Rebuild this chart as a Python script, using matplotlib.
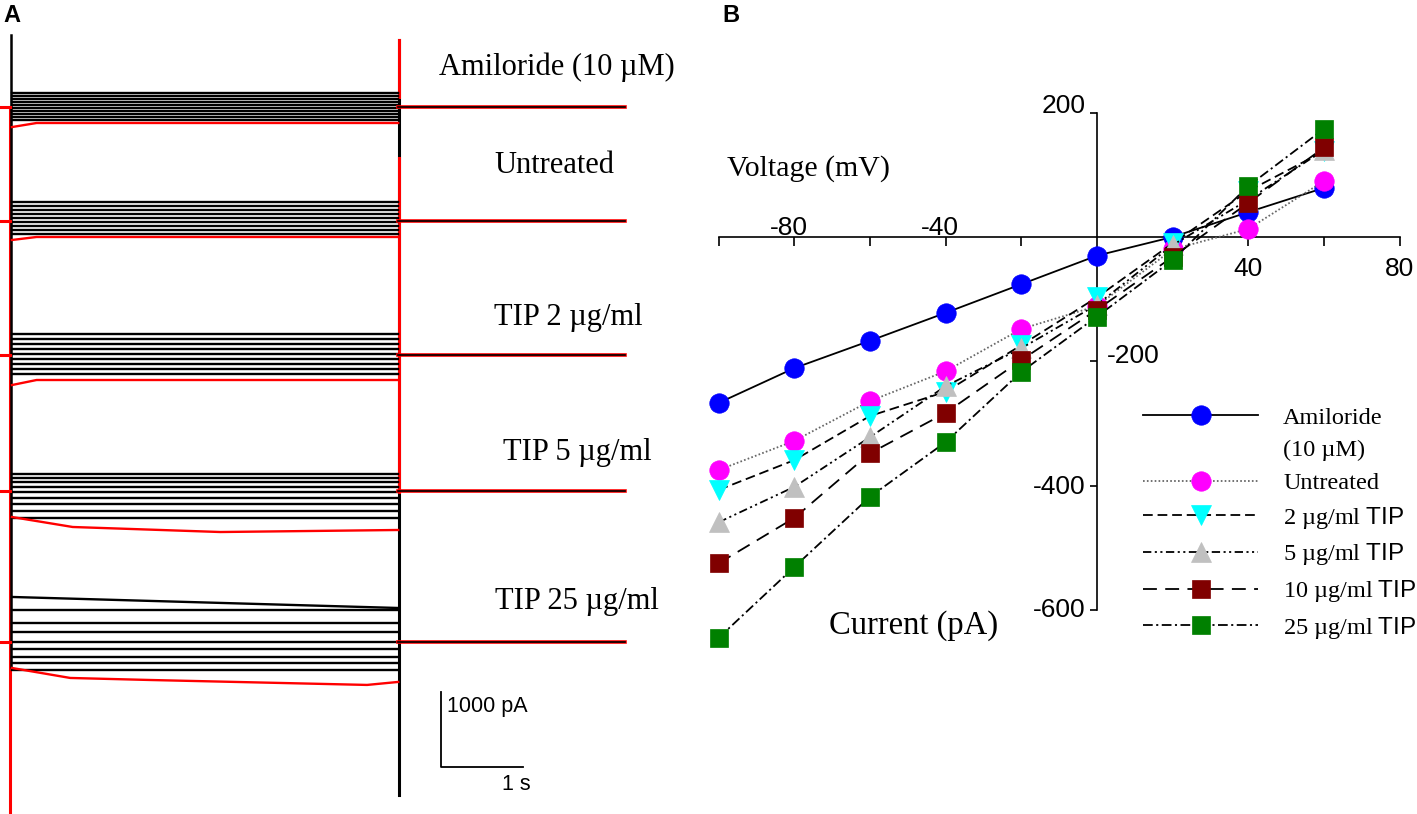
import numpy as np
import matplotlib
matplotlib.use('Agg')
from matplotlib import pyplot as plt
from matplotlib.lines import Line2D

plt.rcParams['mathtext.fontset'] = 'custom'
plt.rcParams['mathtext.rm'] = 'Liberation Serif'
plt.rcParams['mathtext.sf'] = 'Liberation Sans'
plt.rcParams['lines.scale_dashes'] = False

SERIF = 'Liberation Serif'
SANS = 'Liberation Sans'

# ---------------- panel B : I-V curves ----------------
voltage = [-100, -80, -60, -40, -20, 0, 20, 40, 60]
amiloride = [-267, -211, -167, -122, -76, -30, 0, 40, 79]
untreated = [-375, -328, -264, -216, -148, -111, -20, 13, 90]
tip_2 = [-407, -359, -288, -249, -174, -97, -10, 74, 138]
tip_5 = [-459, -402, -322, -240, -179, -109, -13, 60, 140]
tip_10 = [-525, -452, -348, -283, -198, -117, -32, 55, 144]
tip_25 = [-645, -531, -418, -330, -217, -128, -37, 82, 174]

iv_series = [amiloride, untreated, tip_2, tip_5, tip_10, tip_25]
iv_labels = ['Amiloride', 'Untreated', '2 µg/ml $\\mathsf{TIP}$', '5 µg/ml $\\mathsf{TIP}$',
             '10 µg/ml $\\mathsf{TIP}$', '25 µg/ml $\\mathsf{TIP}$']
iv_colors = ['#0000ff', '#ff00ff', '#00ffff', '#c0c0c0', '#800000', '#008000']
iv_markers = ['o', 'o', 'v', '^', 's', 's']
iv_msize = [14, 14, 15, 15, 12.5, 12.5]
iv_styles = ['-', (0, (1.2, 1.6)), (0, (7, 3.5)), (0, (6, 2.5, 1.5, 2.5, 1.5, 2.5)),
             (0, (10, 6)), (0, (7, 2.5, 1.5, 2.5))]
iv_lcolors = ['black', '#666666', 'black', 'black', 'black', 'black']

x_ticks = [-100, -80, -60, -40, -20, 20, 40, 60, 80]
y_ticks = [200, -200, -400, -600]

# ---------------- panel A : current traces ----------------
trace_names = ['Amiloride (10 µM)', 'Untreated', 'TIP 2 µg/ml', 'TIP 5 µg/ml', 'TIP 25 µg/ml']
baseline_offset = [0, -1520, -3307, -5120, -7133]   # pA, stacking offset of each record
step_start = [
    [187, 147, 107, 67, 27, -13, -53, -93, -133, -173],
    [253, 200, 147, 93, 40, -13, -67, -120, -173],
    [280, 213, 147, 80, 13, -53, -120, -187, -253],
    [227, 173, 120, 53, -13, -93, -173, -267, -360],
    [600, 427, 253, 133, 0, -93, -200, -280, -373],
]
step_end = [
    [187, 147, 107, 67, 27, -13, -53, -93, -133, -173],
    [253, 200, 147, 93, 40, -13, -67, -120, -173],
    [280, 213, 147, 80, 13, -53, -120, -187, -253],
    [227, 173, 120, 53, -13, -93, -173, -267, -360],
    [453, 427, 253, 133, 0, -93, -200, -280, -373],
]
red_t = [
    [0, 0.3, 4.71],
    [0, 0.3, 4.71],
    [0, 0.3, 4.71],
    [0, 0.74, 2.54, 4.71],
    [0, 0.71, 1.68, 4.33, 4.71],
]
red_i = [
    [-267, -213, -213],
    [-253, -213, -213],
    [-400, -333, -333],
    [-347, -480, -547, -520],
    [-347, -480, -507, -573, -533],
]
t_step = 4.71
t_tail = 7.48

W, H = 1417, 814
fig = plt.figure(figsize=(W / 100, H / 100), dpi=100)

# ---- panel A
axA = fig.add_axes([0, 0, 700 / W, 1])
axA.set_xlim(-0.1463, 8.39)
axA.set_ylim(-9427, 1427)
axA.axis('off')

# capacitive transients (vertical edges of the steps)
axA.plot([-0.024, -0.024], [0, -9427], color='red', lw=2.2)
axA.plot([-0.008, -0.008], [960, -7470], color='black', lw=1.8)
axA.plot([4.72, 4.72], [893, -9173], color='black', lw=2.2)
axA.plot([4.72, 4.72], [893, 133], color='red', lw=2.2)
axA.plot([4.72, 4.72], [-680, -5133], color='red', lw=2.2)

for k, off in enumerate(baseline_offset):
    for a, b in zip(step_start[k], step_end[k]):
        axA.plot([0, t_step], [off + a, off + b], color='black', lw=1.7)
    axA.plot(red_t[k], [off + v for v in red_i[k]], color='red', lw=1.7)
    axA.plot([-0.1463, -0.024], [off, off], color='red', lw=2.2)
    axA.plot([t_step, t_tail], [off, off], color='red', lw=2.6)
    axA.plot([t_step, t_tail], [off, off], color='black', lw=1.2)

label_pos = [(6.65, 427), (6.61, -880), (6.78, -2907), (6.89, -4707), (6.89, -6693)]
for name, (tx, ty) in zip(trace_names, label_pos):
    axA.text(tx, ty, name, ha='center', va='baseline', fontsize=22, family=SERIF)

# scale bar 1 s / 1000 pA
axA.plot([5.23, 5.23, 6.23], [-7800, -8800, -8800], color='black', lw=1.3)
axA.text(5.30, -7990, '1000 pA', ha='left', va='center', fontsize=15.5, family=SANS)
axA.text(6.15, -9033, '1 s', ha='center', va='center', fontsize=15.5, family=SANS)

# ---- panel B
axB = fig.add_axes([700 / W, 0, 717 / W, 1])
axB.set_xlim(-104.93, 84.58)
axB.set_ylim(-928.4, 381.3)
axB.patch.set_alpha(0)
for s in ['top', 'right']:
    axB.spines[s].set_visible(False)
axB.spines['left'].set_position(('data', 0))
axB.spines['bottom'].set_position(('data', 0))
axB.spines['left'].set_bounds(-600, 200)
axB.spines['bottom'].set_bounds(-100, 80)
for s in ['left', 'bottom']:
    axB.spines[s].set_linewidth(1.2)
axB.set_xticks(x_ticks)
axB.set_yticks(y_ticks)
axB.set_xticklabels([])
axB.set_yticklabels([])
axB.tick_params(axis='x', direction='out', length=6.5, width=1.2)
axB.tick_params(axis='y', direction='out', length=5, width=1.2)

handles = []
for i in range(len(iv_series)):
    h, = axB.plot(voltage, iv_series[i], linestyle=iv_styles[i], color=iv_lcolors[i], lw=1.3,
                  marker=iv_markers[i], markersize=iv_msize[i], markerfacecolor=iv_colors[i],
                  markeredgecolor=iv_colors[i], markeredgewidth=0.5, zorder=3 + i)
    handles.append(h)

# tick labels placed by hand (some above, some below the axis as in the original)
for v in [-80, -40]:
    axB.text(v - 1.5, 3, str(v), ha='center', va='baseline', fontsize=19, family=SANS)
for v in [40, 80]:
    axB.text(v, -32, str(v), ha='center', va='top', fontsize=19, family=SANS)
axB.text(-3, 211, '200', ha='right', va='center', fontsize=19, family=SANS)
axB.text(2.6, -191, '-200', ha='left', va='center', fontsize=19, family=SANS)
axB.text(-3, -402, '-400', ha='right', va='center', fontsize=19, family=SANS)
axB.text(-3, -600, '-600', ha='right', va='center', fontsize=19, family=SANS)

axB.text(-97.8, 98, 'Voltage (mV)', ha='left', va='baseline', fontsize=21.5, family=SERIF)
axB.text(-70.8, -639, 'Current (pA)', ha='left', va='baseline', fontsize=23.5, family=SERIF)

blank = Line2D([], [], linestyle='none')
leg_handles = [handles[0], blank] + handles[1:]
leg_labels = [iv_labels[0], '(10 µM)'] + iv_labels[1:]
axB.legend(leg_handles, leg_labels, loc='upper left', bbox_to_anchor=(12.2, -273),
           bbox_transform=axB.transData, frameon=False, numpoints=1,
           handlelength=4.73, handletextpad=1.03, labelspacing=0.44,
           borderpad=0, borderaxespad=0, prop={'family': SERIF, 'size': 17.5})

fig.text(3 / W, 1 - 4 / H, 'A', ha='left', va='top', fontsize=17, fontweight='bold', family=SANS)
fig.text(722 / W, 1 - 4 / H, 'B', ha='left', va='top', fontsize=17, fontweight='bold', family=SANS)

fig.savefig('out.png', dpi=100)
